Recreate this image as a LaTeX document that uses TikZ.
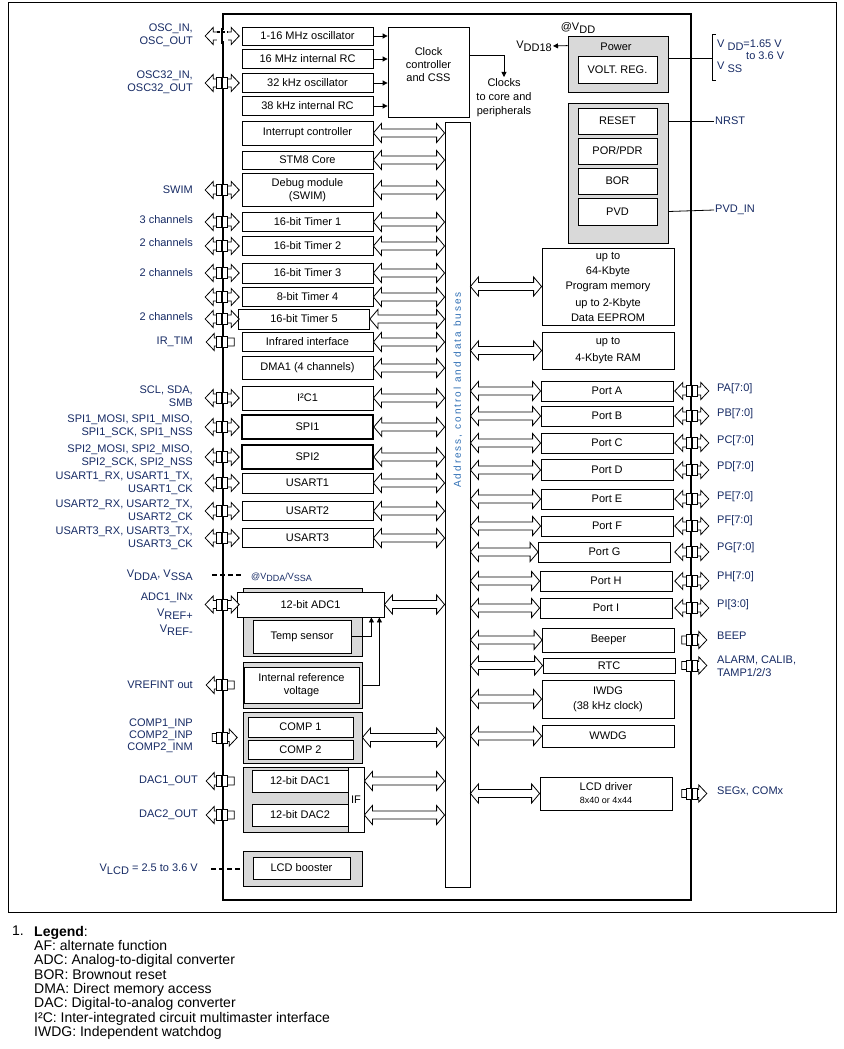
\documentclass[tikz,border=0pt]{standalone}
\usepackage{fontspec}
\setmainfont{Liberation Sans}
\usetikzlibrary{calc,positioning,arrows.meta}
\definecolor{pinblue}{RGB}{22,42,100}
\definecolor{busblue}{RGB}{46,110,180}
\newcommand{\fs}{\fontsize{11}{13}\selectfont}
\newcommand{\lo}[1]{\raisebox{-0.45ex}{#1}}
\tikzset{
  blk/.style={draw, fill=white, line width=0.8pt, inner sep=0pt, align=center, font=\fs},
  lbox/.style={blk, minimum width=131pt},
  rbox/.style={blk, minimum width=132pt},
  grp/.style={draw, fill=black!15, line width=0.8pt, inner sep=0pt},
  pl/.style={anchor=east, align=right, inner sep=1pt, font=\fs, text=pinblue},
  pr/.style={anchor=west, align=left, inner sep=1pt, font=\fs, text=pinblue},
  clk/.style={line width=0.8pt, -{Triangle[length=5pt,width=5pt]}},
  supply/.style={line width=1.6pt, dash pattern=on 5pt off 3pt},
  busarrow/.style={fill=white, line width=0.8pt, to path={
    let \p1=(\tikztostart), \p2=(\tikztotarget) in
    (\x1,\y1) -- (\x1+8pt,\y1+9.5pt) -- (\x1+8pt,\y1+4pt) -- (\x2-8pt,\y1+4pt) -- (\x2-8pt,\y1+9.5pt)
    -- (\x2,\y1) -- (\x2-8pt,\y1-9.5pt) -- (\x2-8pt,\y1-4pt) -- (\x1+8pt,\y1-4pt) -- (\x1+8pt,\y1-9.5pt) -- cycle}},
  pinlr/.pic={
    \draw[fill=white, line width=0.8pt] (-17,0) -- (-9,-8.5) -- (-9,-4) -- (9,-4) -- (9,-8.5) -- (17,0)
      -- (9,8.5) -- (9,4) -- (-9,4) -- (-9,8.5) -- cycle;
    \draw[fill=white, line width=0.8pt] (-5.5,-5.5) rectangle (5.5,5.5);
    \draw[line width=1.6pt] (0,-5.5) -- (0,5.5);
  },
  pinosc/.pic={
    \draw[fill=white, line width=0.8pt] (-17,0) -- (-9,-8.5) -- (-9,-4) -- (9,-4) -- (9,-8.5) -- (17,0)
      -- (9,8.5) -- (9,4) -- (-9,4) -- (-9,8.5) -- cycle;
    \fill[white] (-5.5,-5.5) rectangle (5.5,5.5);
    \draw[line width=1.4pt, dash pattern=on 3pt off 2pt] (-5.5,-4) -- (5.5,-4);
    \draw[line width=1.6pt] (0,-8) -- (0,8);
  },
  pinl/.pic={
    \draw[fill=white, line width=0.8pt] (-16,0) -- (-8,-8.5) -- (-8,-4) -- (12,-4) -- (12,4) -- (-8,4)
      -- (-8,8.5) -- cycle;
    \draw[fill=white, line width=0.8pt] (-5.5,-5.5) rectangle (5.5,5.5);
    \draw[line width=1.6pt] (0,-5.5) -- (0,5.5);
  },
  pinr/.pic={
    \draw[fill=white, line width=0.8pt] (-10,-4) -- (7,-4) -- (7,-8.5) -- (15,0) -- (7,8.5) -- (7,4)
      -- (-10,4) -- cycle;
    \draw[fill=white, line width=0.8pt] (-5.5,-5.5) rectangle (5.5,5.5);
    \draw[line width=1.6pt] (0,-5.5) -- (0,5.5);
  }
}

\begin{document}
\begin{tikzpicture}[x=1pt,y=-1pt]
\useasboundingbox (0,0) rectangle (843,1049);
\draw[line width=0.8pt] (8,2) rectangle (836,912);

% Chip and bus
\node[draw, line width=1.6pt, inner sep=0pt, minimum width=468pt, minimum height=886pt] (chip) at (457,457) {};
\node[draw, fill=white, line width=0.8pt, inner sep=0pt, minimum width=25pt, minimum height=765pt] (abus) at (457.5,504.5) {};
\node[rotate=90, text=busblue, font={\fontsize{10}{12}\selectfont\addfontfeature{LetterSpace=20}}] (buslbl) at (458,390) {Address, control and data buses};

% Clock sources
\node[lbox, minimum height=18pt] (osc) at (307.5,36) {1-16 MHz oscillator};
\node[lbox, minimum height=19pt] (hsi) at (307.5,59) {16 MHz internal RC};
\node[lbox, minimum height=19pt] (lse) at (307.5,83) {32 kHz oscillator};
\node[lbox, minimum height=19pt] (lsi) at (307.5,106) {38 kHz internal RC};
\node[blk, minimum width=81pt, minimum height=90pt] (clock) at (428.5,72) {};
\node[font=\fs, align=center] (clocktxt) at (428.5,64.5) {Clock\\controller\\and CSS};
\draw[clk] (osc.east) -- (osc.east -| clock.west);
\draw[clk] (hsi.east) -- (hsi.east -| clock.west);
\draw[clk] (lse.east) -- (lse.east -| clock.west);
\draw[clk] (lsi.east) -- (lsi.east -| clock.west);
\node[font={\fontsize{11}{14}\selectfont}, align=center, anchor=north, inner sep=1pt] (clkout) at (504,77) {Clocks\\to core and\\peripherals};
\draw[clk] ($(clock.north east)+(0,29)$) -| (clkout.north);

% Left peripherals
\node[lbox, minimum height=24pt] (itc) at (307.5,133) {Interrupt controller};
\node[lbox, minimum height=18pt] (core) at (307.5,160) {STM8 Core};
\node[lbox, minimum height=33pt] (swim) at (307.5,190) {Debug module\\(SWIM)};
\node[lbox, minimum height=19pt] (tim1) at (307.5,222) {16-bit Timer 1};
\node[lbox, minimum height=19pt] (tim2) at (307.5,246) {16-bit Timer 2};
\node[lbox, minimum height=20pt] (tim3) at (307.5,273) {16-bit Timer 3};
\node[lbox, minimum height=19pt] (tim4) at (307.5,297) {8-bit Timer 4};
\node[lbox, minimum height=20pt] (tim5) at (304,319) {16-bit Timer 5};
\node[lbox, minimum height=19pt] (irda) at (307.5,342) {Infrared interface};
\node[lbox, minimum height=23pt] (dma) at (307.5,368) {DMA1 (4 channels)};
\node[lbox, minimum height=24pt] (i2c) at (307.5,398) {I²C1};
\node[lbox, minimum height=24pt, line width=1.6pt] (spi1) at (307.5,427) {SPI1};
\node[lbox, minimum height=24pt, line width=1.6pt] (spi2) at (307.5,457) {SPI2};
\node[lbox, minimum height=20pt] (usart1) at (307.5,483) {USART1};
\node[lbox, minimum height=19pt] (usart2) at (307.5,511) {USART2};
\node[lbox, minimum height=19pt] (usart3) at (307.5,538) {USART3};

\draw[busarrow] (itc.east) to (itc.east -| abus.west);
\draw[busarrow] (core.east) to (core.east -| abus.west);
\draw[busarrow] (swim.east) to (swim.east -| abus.west);
\draw[busarrow] (tim1.east) to (tim1.east -| abus.west);
\draw[busarrow] (tim2.east) to (tim2.east -| abus.west);
\draw[busarrow] (tim3.east) to (tim3.east -| abus.west);
\draw[busarrow] (tim4.east) to (tim4.east -| abus.west);
\draw[busarrow] (tim5.east) to (tim5.east -| abus.west);
\draw[busarrow] (irda.east) to (irda.east -| abus.west);
\draw[busarrow] (dma.east) to (dma.east -| abus.west);
\draw[busarrow] (i2c.east) to (i2c.east -| abus.west);
\draw[busarrow] (spi1.east) to (spi1.east -| abus.west);
\draw[busarrow] (spi2.east) to (spi2.east -| abus.west);
\draw[busarrow] (usart1.east) to (usart1.east -| abus.west);
\draw[busarrow] (usart2.east) to (usart2.east -| abus.west);
\draw[busarrow] (usart3.east) to (usart3.east -| abus.west);

% Analog blocks
\node[grp, minimum width=119pt, minimum height=68pt] (adcgrp) at (302.5,622) {};
\node[blk, minimum width=147pt, minimum height=25pt] (adc) at (310.5,604.5) {12-bit ADC1};
\node[blk, minimum width=98pt, minimum height=33pt] (temp) at (302,636.5) {Temp sensor};
\node[grp, minimum width=119pt, minimum height=46pt] (vrefgrp) at (302.5,685) {};
\node[blk, minimum width=115pt, minimum height=36pt] (vref) at (301.5,685) {Internal reference\\voltage};
\node[grp, minimum width=119pt, minimum height=51pt] (compgrp) at (302.5,737.5) {};
\node[blk, minimum width=105pt, minimum height=20pt] (comp1) at (300.5,727) {COMP 1};
\node[blk, minimum width=105pt, minimum height=19pt] (comp2) at (300.5,749.5) {COMP 2};
\node[grp, minimum width=119pt, minimum height=65pt] (dacgrp) at (302.5,799.5) {};
\node[blk, minimum width=96pt, minimum height=22pt] (dac1) at (300,781) {12-bit DAC1};
\node[blk, minimum width=96pt, minimum height=22pt] (dac2) at (300,815) {12-bit DAC2};
\node[blk, minimum width=16pt, minimum height=65pt] (dacif) at (356,799.5) {IF};
\node[grp, minimum width=119pt, minimum height=35pt] (lcdgrp) at (302.5,868.5) {};
\node[blk, minimum width=97pt, minimum height=22pt] (booster) at (301.5,868) {LCD booster};

\draw[busarrow] (adc.east) to (adc.east -| abus.west);
\draw[clk] (temp.east) -| ($(adc.south east)+(-13,0)$);
\draw[clk] (vrefgrp.east) -| ($(adc.south east)+(-5,0)$);
\draw[busarrow] (compgrp.east) to (compgrp.east -| abus.west);
\draw[busarrow] (dac1 -| dacif.east) to (dac1 -| abus.west);
\draw[busarrow] (dac2 -| dacif.east) to (dac2 -| abus.west);

% Left pins
\pic at (osc.west -| chip.west) {pinosc};
\pic at (lse.west -| chip.west) {pinlr};
\pic at (swim.west -| chip.west) {pinlr};
\pic at (tim1.west -| chip.west) {pinlr};
\pic at (tim2.west -| chip.west) {pinlr};
\pic at (tim3.west -| chip.west) {pinlr};
\pic at (tim4.west -| chip.west) {pinlr};
\pic at (tim5.west -| chip.west) {pinlr};
\pic at (irda.west -| chip.west) {pinl};
\pic at (i2c.west -| chip.west) {pinlr};
\pic at (spi1.west -| chip.west) {pinlr};
\pic at (spi2.west -| chip.west) {pinlr};
\pic at (usart1.west -| chip.west) {pinlr};
\pic at (usart2.west -| chip.west) {pinlr};
\pic at (usart3.west -| chip.west) {pinlr};
\pic at (adc.west -| chip.west) {pinlr};
\pic at (vref.west -| chip.west) {pinl};
\pic at (compgrp.west -| chip.west) {pinr};
\pic at (dac1.west -| chip.west) {pinl};
\pic at (dac2.west -| chip.west) {pinl};

% Left pin labels
\node[pl] (osclbl) at (194,35) {OSC\_IN,\\OSC\_OUT};
\node[pl] (osc32lbl) at (194,82) {OSC32\_IN,\\OSC32\_OUT};
\node[pl] (swimlbl) at (194,190) {SWIM};
\node[pl] (t1lbl) at (194,220) {3 channels};
\node[pl] (t2lbl) at (194,243) {2 channels};
\node[pl] (t3lbl) at (194,273) {2 channels};
\node[pl] (t5lbl) at (194,317) {2 channels};
\node[pl] (irlbl) at (194,342) {IR\_TIM};
\node[pl] (i2clbl) at (194,396) {SCL, SDA,\\SMB};
\node[pl] (spi1lbl) at (194,426) {SPI1\_MOSI, SPI1\_MISO,\\SPI1\_SCK, SPI1\_NSS};
\node[pl] (spi2lbl) at (194,456) {SPI2\_MOSI, SPI2\_MISO,\\SPI2\_SCK, SPI2\_NSS};
\node[pl] (usart1lbl) at (194,483) {USART1\_RX, USART1\_TX,\\USART1\_CK};
\node[pl] (usart2lbl) at (194,511) {USART2\_RX, USART2\_TX,\\USART2\_CK};
\node[pl] (usart3lbl) at (194,538) {USART3\_RX, USART3\_TX,\\USART3\_CK};
\node[pl] (vdda) at (194,575) {V\lo{DDA}, V\lo{SSA}};
\draw[supply] ($(vdda.east)+(18,0)$) -- (vdda.east -| adcgrp.west);
\node[anchor=west, inner sep=1pt, text=pinblue, font={\fontsize{9}{10}\selectfont}] (vddaat) at (250,577) {@V\lo{DDA}/V\lo{SSA}};
\node[pl] (adcin) at (194,614) {ADC1\_INx\\[3pt]V\lo{REF+}\\[3pt]V\lo{REF-}};
\node[pl] (vrefout) at (194,685) {VREFINT out};
\node[pl, font={\fontsize{11}{12}\selectfont}] (compin) at (194,736) {COMP1\_INP\\COMP2\_INP\\COMP2\_INM};
\node[pl] (dac1out) at (199,781) {DAC1\_OUT};
\node[pl] (dac2out) at (199,815) {DAC2\_OUT};
\node[pl] (vlcd) at (199,869) {V\lo{LCD} = 2.5 to 3.6 V};
\draw[supply] ($(vlcd.east)+(12,0)$) -- (vlcd.east -| lcdgrp.west);

% Power and reset
\node[grp, minimum width=100pt, minimum height=56pt] (pwr) at (618,64) {};
\node[font=\fs] (pwrlbl) at (616,47) {Power};
\node[blk, minimum width=79pt, minimum height=27pt] (vreg) at (617.5,69.5) {VOLT. REG.};
\node[font=\fs, inner sep=1pt] (vdd) at (578,28) {@V\lo{DD}};
\node[font=\fs, inner sep=1pt, anchor=east] (vdd18) at (553,46) {V\lo{DD18}};
\draw[clk] ($(pwr.north west)+(0,10)$) -- (vdd18.east);
\coordinate (brk) at (712,58);
\draw[line width=0.8pt] (brk -| pwr.east) -- (brk);
\draw[line width=0.8pt] (716,34) -- (712,34) -- (712,80) -- (716,80);
\node[pr] (vddr) at (716,45) {V \lo{DD}=1.65 V};
\node[pr] (vddto) at (745,56) {to 3.6 V};
\node[pr] (vss) at (716,67) {V \lo{SS}};

\node[grp, minimum width=100pt, minimum height=140pt] (rstgrp) at (618,173) {};
\node[blk, minimum width=79pt, minimum height=26pt] (rst) at (617.5,121) {\raisebox{-3pt}{RESET}};
\node[blk, minimum width=79pt, minimum height=26pt] (por) at (617.5,151) {\raisebox{-3pt}{POR/PDR}};
\node[blk, minimum width=79pt, minimum height=26pt] (bor) at (617.5,181) {\raisebox{-3pt}{BOR}};
\node[blk, minimum width=79pt, minimum height=27pt] (pvd) at (617.5,211.5) {\raisebox{-3pt}{PVD}};
\node[pr] (nrst) at (714,121) {NRST};
\draw[line width=0.8pt] (rst.east -| rstgrp.east) -- (nrst.west);
\node[pr] (pvdin) at (714,210) {PVD\_IN};
\draw[line width=0.8pt] (pvd.east -| rstgrp.east) -- (pvdin.west);

% Memories
\node[rbox, minimum height=77pt, font={\fontsize{11}{15}\selectfont}] (flash) at (608,286.5) {up to\\64-Kbyte\\Program memory\\[2pt]up to 2-Kbyte\\Data EEPROM};
\node[rbox, minimum height=37pt] (ram) at (608,350.5) {up to\\[4pt]4-Kbyte RAM};
\draw[busarrow] (flash.west -| abus.east) to (flash.west);
\draw[busarrow] (ram.west -| abus.east) to (ram.west);

% Ports
\node[rbox, minimum height=20pt] (porta) at (607,391) {Port A};
\node[rbox, minimum height=20pt] (portb) at (607,416) {Port B};
\node[rbox, minimum height=20pt] (portc) at (607,443) {Port C};
\node[rbox, minimum height=21pt] (portd) at (607,470) {Port D};
\node[rbox, minimum height=20pt] (porte) at (607,499) {Port E};
\node[rbox, minimum height=20pt] (portf) at (607,526) {Port F};
\node[rbox, minimum height=20pt] (portg) at (604.5,552) {Port G};
\node[rbox, minimum height=20pt] (porth) at (606,581) {Port H};
\node[rbox, minimum height=20pt] (porti) at (606,608) {Port I};
\node[rbox, minimum height=24pt] (beep) at (608.5,640) {Beeper};
\node[rbox, minimum height=15pt] (rtc) at (609,665.5) {RTC};
\node[rbox, minimum height=38pt] (iwdg) at (608,699) {IWDG\\[2pt](38 kHz clock)};
\node[rbox, minimum height=22pt] (wwdg) at (608,736) {WWDG};
\node[rbox, minimum height=33pt] (lcd) at (606,793.5) {LCD driver\\{\fontsize{9}{10}\selectfont 8x40 or 4x44}};

\draw[busarrow] (porta.west -| abus.east) to (porta.west);
\draw[busarrow] (portb.west -| abus.east) to (portb.west);
\draw[busarrow] (portc.west -| abus.east) to (portc.west);
\draw[busarrow] (portd.west -| abus.east) to (portd.west);
\draw[busarrow] (porte.west -| abus.east) to (porte.west);
\draw[busarrow] (portf.west -| abus.east) to (portf.west);
\draw[busarrow] (portg.west -| abus.east) to (portg.west);
\draw[busarrow] (porth.west -| abus.east) to (porth.west);
\draw[busarrow] (porti.west -| abus.east) to (porti.west);
\draw[busarrow] (beep.west -| abus.east) to (beep.west);
\draw[busarrow] (rtc.west -| abus.east) to (rtc.west);
\draw[busarrow] (iwdg.west -| abus.east) to (iwdg.west);
\draw[busarrow] (wwdg.west -| abus.east) to (wwdg.west);
\draw[busarrow] (lcd.west -| abus.east) to (lcd.west);

% Right pins
\pic at (porta.east -| chip.east) {pinlr};
\pic at (portb.east -| chip.east) {pinlr};
\pic at (portc.east -| chip.east) {pinlr};
\pic at (portd.east -| chip.east) {pinlr};
\pic at (porte.east -| chip.east) {pinlr};
\pic at (portf.east -| chip.east) {pinlr};
\pic at (portg.east -| chip.east) {pinlr};
\pic at (porth.east -| chip.east) {pinlr};
\pic at (porti.east -| chip.east) {pinlr};
\pic at (beep.east -| chip.east) {pinr};
\pic at (rtc.east -| chip.east) {pinr};
\pic at (lcd.east -| chip.east) {pinr};

% Right pin labels
\node[pr] (palbl) at (716,389) {PA[7:0]};
\node[pr] (pblbl) at (716,414) {PB[7:0]};
\node[pr] (pclbl) at (716,441) {PC[7:0]};
\node[pr] (pdlbl) at (716,467) {PD[7:0]};
\node[pr] (pelbl) at (716,497) {PE[7:0]};
\node[pr] (pflbl) at (716,521) {PF[7:0]};
\node[pr] (pglbl) at (716,548) {PG[7:0]};
\node[pr] (phlbl) at (716,577) {PH[7:0]};
\node[pr] (pilbl) at (716,605) {PI[3:0]};
\node[pr] (beeplbl) at (716,636) {BEEP};
\node[pr] (rtclbl) at (716,666) {ALARM, CALIB,\\TAMP1/2/3};
\node[pr] (lcdlbl) at (716,791) {SEGx, COMx};

% Legend
\node[anchor=north west, inner sep=0pt, font={\fontsize{14}{14.3}\selectfont}] (legnum) at (12,926) {1.};
\node[anchor=north west, inner sep=0pt, align=left, font={\fontsize{14}{14.3}\selectfont}] (legend) at (34,926) {\textbf{Legend}:\\AF: alternate function\\ADC: Analog-to-digital converter\\BOR: Brownout reset\\DMA: Direct memory access\\DAC: Digital-to-analog converter\\I²C: Inter-integrated circuit multimaster interface\\IWDG: Independent watchdog};

\end{tikzpicture}
\end{document}
